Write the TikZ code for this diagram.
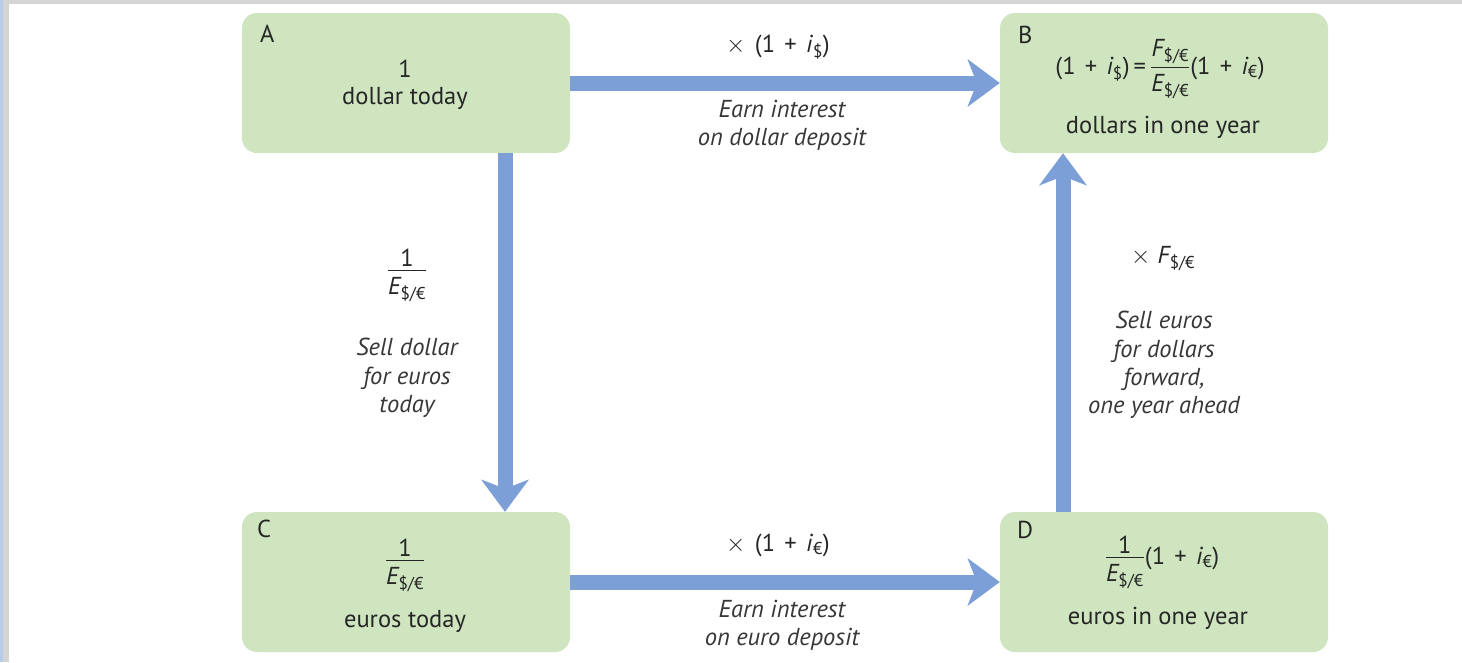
\documentclass[tikz,border=0pt]{standalone}
\usepackage{amsmath}
\usepackage{fontspec}
\setmainfont{PT Sans}
\usetikzlibrary{arrows.meta}
\definecolor{boxgreen}{RGB}{206,229,191}
\definecolor{arrowblue}{RGB}{124,159,216}
\definecolor{txt}{RGB}{38,38,38}
\definecolor{itxt}{RGB}{55,55,55}
\definecolor{framegray}{RGB}{212,212,212}
\definecolor{stripblue}{RGB}{184,204,232}
\newcommand{\sd}{\text{\$/€}}
\newcommand{\vE}{\textit{E}_{\sd}}
\newcommand{\vF}{\textit{F}_{\sd}}
\newcommand{\fracE}[1]{\dfrac{\raisebox{-6pt}{$#1$}}{\vE}}
\newcommand{\op}[1]{\text{\hspace{0.38em}#1\hspace{0.38em}}}
\begin{document}
\begin{tikzpicture}[x=1pt,y=-1pt,
  font=\fontsize{24.5}{29}\selectfont, text=txt,
  box/.style={fill=boxgreen, rounded corners=15pt, minimum width=328pt, minimum height=140pt, inner sep=0pt},
  flow/.style={draw=arrowblue, line width=15pt, -{Stealth[length=32pt,width=47pt,inset=9pt]}},
  lbl/.style={anchor=base, inner sep=0pt},
  ilbl/.style={anchor=base, inner sep=0pt, text=itxt, font=\fontsize{24.5}{29}\selectfont\itshape},
  corner/.style={anchor=base west, inner sep=0pt}]
\useasboundingbox (0,0) rectangle (1462,662);
\fill[white] (0,0) rectangle (1462,662);
\fill[framegray] (0,0) rectangle (1462,4);
\fill[framegray] (0,0) rectangle (9,662);
\fill[stripblue] (0,0) rectangle (3,662);

% boxes
\node[box] (A) at (406,83) {};
\node[box] (B) at (1164,83) {};
\node[box] (C) at (406,582) {};
\node[box] (D) at (1164,582) {};

% arrows
\draw[flow] (A) -- (B);
\draw[flow] (C) -- (D);
\draw[flow] ([xshift=99pt]A.south) -- ([xshift=99pt]C.north);
\draw[flow] ([xshift=-101pt]D.north) -- ([xshift=-101pt]B.south);

% box A
\node[corner] (Al) at (260,42) {A};
\node[lbl] (A1) at (405,77) {1};
\node[lbl] (A2) at (405,104) {dollar today};
% box B
\node[corner] (Bl) at (1018,43) {B};
\node[lbl] (B1) at (1160,74) {$\text{(1}\op{+}\textit{i}_{\text{\$}}\text{)}\text{\,=\,}\dfrac{\raisebox{-6pt}{$\vF$}}{\vE}\text{(1}\op{+}\textit{i}_{\text{€}}\text{)}$};
\node[lbl] (B2) at (1163,133) {dollars in one year};
% box C
\node[corner] (Cl) at (257,537) {C};
\node[lbl] (C1) at (405,567) {$\fracE{\text{1}}$};
\node[lbl] (C2) at (405,627) {euros today};
% box D
\node[corner] (Dl) at (1017,538) {D};
\node[lbl] (D1) at (1162,564) {$\fracE{\text{1}}\text{(1}\op{+}\textit{i}_{\text{€}}\text{)}$};
\node[lbl] (D2) at (1158,624) {euros in one year};

% top arrow labels
\node[lbl] (t1) at (778,52) {$\times$\hspace{0.38em}(1\hspace{0.38em}+\hspace{0.38em}\textit{i}$_{\text{\$}}$)};
\node[ilbl] (t2) at (782,117) {Earn interest};
\node[ilbl] (t3) at (782,145) {on dollar deposit};
% bottom arrow labels
\node[lbl] (b1) at (778,551) {$\times$\hspace{0.38em}(1\hspace{0.38em}+\hspace{0.38em}\textit{i}$_{\text{€}}$)};
\node[ilbl] (b2) at (782,617) {Earn interest};
\node[ilbl] (b3) at (782,645) {on euro deposit};
% left arrow labels
\node[lbl] (l1) at (407,277) {$\fracE{\text{1}}$};
\node[ilbl] (l2) at (407,355) {Sell dollar};
\node[ilbl] (l3) at (407,384) {for euros};
\node[ilbl] (l4) at (407,412) {today};
% right arrow labels
\node[lbl] (r1) at (1163,263) {$\times$\hspace{0.3em}$\vF$};
\node[ilbl] (r2) at (1164,328) {Sell euros};
\node[ilbl] (r3) at (1164,357) {for dollars};
\node[ilbl] (r4) at (1164,385) {forward,};
\node[ilbl] (r5) at (1164,413) {one year ahead};
\end{tikzpicture}
\end{document}
